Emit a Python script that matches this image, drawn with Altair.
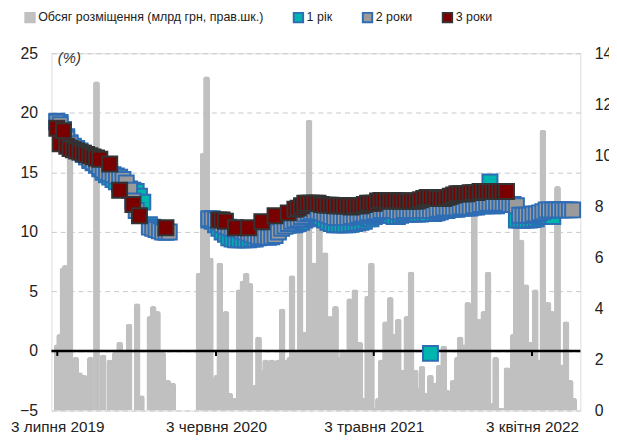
import altair as alt
import pandas as pd

FONT = "Liberation Sans, Arial, sans-serif"

SERIES = ["Обсяг розміщення (млрд грн, прав.шк.)", "1 рік", "2 роки", "3 роки"]
FILLS = ["#c0c0c0", "#00b5ad", "#9b9b9b", "#7a0000"]
STROKES = ["#c0c0c0", "#2e6db4", "#2e6db4", "#333333"]

# placement volumes (bn UAH, right axis)
bar_dates = [
    "2019-07-03", "2019-07-08", "2019-07-15", "2019-07-20", "2019-07-30", "2019-08-11",
    "2019-08-19", "2019-08-28", "2019-09-06", "2019-09-11", "2019-09-24", "2019-10-08",
    "2019-10-22", "2019-11-03", "2019-11-12", "2019-11-20", "2019-12-02", "2019-12-19",
    "2019-12-28", "2020-01-15", "2020-01-22", "2020-01-31", "2020-02-11", "2020-02-22",
    "2020-03-03",
    "2020-04-28", "2020-05-07", "2020-05-14", "2020-05-22", "2020-05-29", "2020-06-05",
    "2020-06-11", "2020-06-19", "2020-06-24", "2020-07-02", "2020-07-11", "2020-07-22",
    "2020-07-30", "2020-08-06", "2020-08-14", "2020-08-23", "2020-09-01", "2020-09-09",
    "2020-09-16", "2020-09-22", "2020-09-29", "2020-10-06", "2020-10-13", "2020-10-21",
    "2020-10-30", "2020-11-06", "2020-11-11", "2020-11-20", "2020-11-28", "2020-12-07",
    "2020-12-17", "2020-12-28", "2021-01-08", "2021-01-20", "2021-01-31", "2021-02-11",
    "2021-02-20", "2021-02-26", "2021-03-05", "2021-03-13", "2021-03-24", "2021-04-03",
    "2021-04-12", "2021-04-20", "2021-04-28", "2021-05-06", "2021-05-13", "2021-05-19",
    "2021-05-28", "2021-06-07", "2021-06-16", "2021-06-24", "2021-07-04", "2021-07-12",
    "2021-07-21", "2021-07-30", "2021-08-06", "2021-08-13", "2021-08-23", "2021-08-31",
    "2021-09-11", "2021-09-19", "2021-09-28", "2021-10-06", "2021-10-18", "2021-10-27",
    "2021-11-02", "2021-11-10", "2021-11-18", "2021-11-25", "2021-12-02", "2021-12-12",
    "2021-12-22", "2021-12-31", "2022-01-10", "2022-01-16", "2022-01-27", "2022-02-09",
    "2022-02-22", "2022-03-01", "2022-03-11", "2022-03-21", "2022-03-31", "2022-04-10",
    "2022-04-19", "2022-04-26", "2022-05-07", "2022-05-15", "2022-05-27", "2022-06-06",
    "2022-06-14", "2022-06-23", "2022-06-30",
]
bar_vals = [
    2.6, 3.0, 5.6, 5.7, 10.2, 2.1,
    1.5, 1.4, 1.3, 2.1, 12.9, 2.2,
    2.0, 2.3, 2.7, 2.3, 3.4, 4.2,
    0.6, 3.7, 4.1, 3.9, 2.3, 1.2,
    1.1,
    5.4, 10.1, 13.1, 6.0, 1.3, 1.4,
    5.8, 0.9, 3.9, 0.7, 0.5, 4.75,
    5.1, 5.4, 5.0, 1.0, 2.9, 1.6,
    2.0, 1.95, 2.0, 1.95, 2.0, 4.0,
    2.0, 2.1, 5.3, 2.3, 7.0, 3.1,
    11.4, 5.8, 7.5, 6.2, 3.7, 4.1,
    2.1, 2.4, 2.3, 4.4, 4.75, 2.7,
    0.5, 4.5, 5.8, 0.1, 0.5, 2.0,
    3.5, 4.45, 3.0, 3.6, 1.6, 3.7,
    5.45, 1.6, 0.9, 1.75, 0.7, 1.4,
    1.1, 1.8, 2.55, 0.8, 1.2, 2.1,
    2.9, 2.6, 4.25, 3.9, 8.0, 3.6,
    3.9, 5.45, 0.3, 2.1, 0.1, 1.7,
    3.0, 7.5, 6.7, 4.95, 2.7, 4.75,
    2.0, 11.0, 4.25, 3.9, 8.8, 1.8,
    3.5, 1.2, 0.5,
]

# weekly auction yields (%), segment 1: from 2019-07-02, segment 2: from 2020-05-19
seg1_start, seg1_weeks = "2019-07-02", 35
seg2_start, seg2_weeks = "2020-05-19", 111

y1_seg1 = [19.3, 19.2, 18.6, 18.0, 17.5, 17.2, 17.0, 16.8, 16.6, 16.3,
           16.0, 15.8, 15.6, 15.3, 15.0, 14.8, 14.6, 14.4, 14.2, 14.0,
           13.8, 13.7, 13.6, 13.5, 13.4, 13.0, 12.5, None, 10.6, 10.4,
           10.3, 10.2, 10.1, 10.0]
y2_seg1 = [19.2, 19.0, 18.4, 17.8, 17.4, 17.1, 16.9, 16.7, 16.5, 16.3,
           16.1, 15.9, 15.7, 15.5, 15.2, 15.0, 14.9, 14.8, 14.7, 14.6,
           14.4, 14.1, 13.5, 12.6, 11.8, None, None, None, 10.4, 10.3,
           10.2, 10.1, 10.0, 10.0, 10.0]
y3_seg1 = [18.7, 17.4, 18.5, 17.2, 17.0, 16.9, 16.8, 16.7, 16.6, 16.5,
           16.4, 16.3, 16.2, 16.1, None, None, 15.7, None, None, 13.5,
           None, None, None, 12.3, None, 11.35, None, None, None, None,
           None, None, None, 10.35]

y1_seg2 = [11.0, 10.9, 10.6, 10.3, 10.0, 9.8, 9.5, 9.4, 9.35, 9.35,
           9.35, 9.35, 9.35, 9.4, 9.4, 9.5, 9.6, 9.7, 9.8, 9.9,
           10.0, 10.2, 10.4, 10.5, 10.55, 10.6, 10.6, 10.7, 10.8, 11.0,
           11.1, 11.2, 11.3, 11.3, 11.2, 11.0, 10.8, 10.7, 10.6, 10.6,
           10.6, 10.6, 10.6, 10.65, 10.7, 10.75, 10.8, 10.9, 11.1, 11.1,
           11.3, 11.4, 11.5, 11.55, 11.55, 11.4, 11.3, 11.3, 11.4, 11.5,
           11.5, 11.5, 11.5, 11.5, 11.5, 11.55, 11.55, -0.2, 11.55, 11.6,
           11.7, 11.8, 11.8, 11.9, 11.9, 11.9, 12.0, 12.0, 12.0, 12.0,
           12.1, 12.1, 12.2, 12.2, 12.2, 14.2, 12.2, 12.2, 12.3, 12.3,
           12.3, 12.3, None, 11.0, 11.0, 11.0, 11.0, 11.0, 11.05, 11.1,
           11.3, 11.3, 11.3, 11.3, 11.3, None, None, None, None, None,
           None]
y2_seg2 = [11.1, 11.1, 11.0, 10.8, 10.6, 10.5, 10.4, 10.3, 10.2, 10.2,
           10.1, 10.0, 9.9, 9.8, 9.7, 9.6, 9.6, 9.6, 9.55, 9.6,
           9.7, 10.0, 10.3, 10.5, 10.7, 10.9, 11.0, 11.1, 11.3, 11.5,
           11.6, 11.7, 11.7, 11.7, 11.6, 11.5, 11.4, 11.3, 11.2, 11.2,
           11.2, 11.2, 11.2, 11.3, 11.3, 11.4, 11.5, 11.5, 11.6, 11.6,
           11.7, 11.7, 11.8, 11.8, 11.8, 11.8, 11.8, 11.7, 11.7, 11.8,
           11.8, 11.8, 11.8, 11.8, 11.8, 11.8, 11.8, 11.8, 11.8, 11.9,
           11.9, 12.0, 12.0, 12.0, 12.0, 12.0, 12.1, 12.1, 12.1, 12.1,
           12.2, 12.2, 12.3, 12.3, 12.4, 12.4, 12.4, 12.4, 12.4, 12.4,
           12.4, 12.3, 12.3, 12.2, 11.4, 11.4, 11.4, 11.4, 11.5, 11.5,
           11.6, 11.7, 11.85, 11.85, 11.85, 11.85, 11.85, 11.85, 11.85, 11.85,
           11.85]
y3_seg2 = [None, None, None, 11.0, 11.0, 10.9, None, None, 10.35, None,
           None, None, 10.35, None, None, None, 10.85, None, None, None,
           11.35, None, None, None, 11.6, None, 11.9, 12.0, 12.2, 12.4,
           12.4, 12.4, 12.4, 12.4, 12.3, 12.25, 12.25, 12.25, 12.2, 12.2,
           12.2, 12.2, 12.2, 12.1, 12.2, 12.2, 12.2, 12.3, 12.4, 12.4,
           12.4, 12.6, 12.65, 12.65, 12.6, 12.6, 12.65, 12.6, 12.6, 12.6,
           12.55, 12.6, 12.6, 12.6, 12.7, 12.8, 12.9, 12.9, 12.9, 12.8,
           12.8, 12.8, 12.9, 13.0, 13.1, 13.2, 13.2, 13.2, 13.2, 13.3,
           13.3, 13.3, 13.4, 13.4, 13.4, 13.4, 13.4, 13.4, 13.4, 13.4,
           13.4]

tick_dates = ["2019-07-03", "2020-06-03", "2021-05-03", "2022-04-03"]
tick_labels = ["3 липня 2019", "3 червня 2020", "3 травня 2021", "3 квітня 2022"]
left_ticks = [-5, 0, 5, 10, 15, 20, 25]
right_ticks = [0, 2, 4, 6, 8, 10, 12, 14]

# ---- build tables ----
bar_df = pd.DataFrame({"date": bar_dates, "vol": bar_vals, "series": SERIES[0]})

d1 = pd.date_range(seg1_start, periods=seg1_weeks, freq="7D").strftime("%Y-%m-%d")
d2 = pd.date_range(seg2_start, periods=seg2_weeks, freq="7D").strftime("%Y-%m-%d")
rows = []
for name, s1, s2 in [(SERIES[1], y1_seg1, y1_seg2), (SERIES[2], y2_seg1, y2_seg2),
                     (SERIES[3], y3_seg1, y3_seg2)]:
    for d, v in zip(d1, s1):
        if v is not None:
            rows.append((d, v, name))
    for d, v in zip(d2, s2):
        if v is not None:
            rows.append((d, v, name))
pts = pd.DataFrame(rows, columns=["date", "rate", "series"])

zero_df = pd.DataFrame({"y": [0]})
tick_df = pd.DataFrame({"date": tick_dates, "y": 0})


def dt(s):
    y, m, d = (int(p) for p in s.split("-"))
    return alt.DateTime(year=y, month=m, date=d, utc=True)


label_expr = ""
for d, lab in zip(tick_dates, tick_labels):
    label_expr += f"utcFormat(datum.value, '%Y-%m-%d') == '{d}' ? '{lab}' : "
label_expr += "''"

x_scale = alt.Scale(type="utc", domain=[dt("2019-07-01"), dt("2022-07-04")])
x_axis = alt.Axis(values=[dt(d) for d in tick_dates], labelExpr=label_expr, title=None,
                  grid=False, domain=False, ticks=False, labelPadding=9,
                  labelFont=FONT, labelFontSize=15.5, labelColor="#222222",
                  labelOverlap=False, labelFlush=False)
x_enc = alt.X("date:T", scale=x_scale, axis=x_axis)

left_scale = alt.Scale(domain=[-5, 25], nice=False, zero=False)
left_axis = alt.Axis(orient="left", values=left_ticks, grid=True, gridDash=[5, 4],
                     gridColor="#c8c8c8", gridWidth=1, domain=False, ticks=False,
                     labelPadding=14, labelFont=FONT, labelFontSize=16, labelColor="#222222",
                     title="(%)", titleAngle=0, titleAlign="left", titleBaseline="middle",
                     titleX=6, titleY=4, titleFont=FONT, titleFontSize=15,
                     titleFontStyle="italic", titleFontWeight="normal", titleColor="#333333")
right_axis = alt.Axis(orient="right", values=right_ticks, grid=False, domain=False, ticks=False,
                      labelPadding=14, labelFont=FONT, labelFontSize=16, labelColor="#222222",
                      title=None)

legend = alt.Legend(title=None, orient="none", legendX=-28, legendY=-43, direction="horizontal",
                    symbolType="square", symbolSize=90, symbolStrokeWidth=2, symbolOpacity=1,
                    labelFont=FONT, labelFontSize=12.6, labelColor="#222222", labelOffset=2,
                    columnPadding=26, labelLimit=0)
color_scale = alt.Scale(domain=SERIES, range=FILLS)
stroke_scale = alt.Scale(domain=SERIES, range=STROKES)

bars = alt.Chart(bar_df).mark_bar(size=7, cornerRadiusTopLeft=3, cornerRadiusTopRight=3).encode(
    x=x_enc,
    y=alt.Y("vol:Q", scale=alt.Scale(domain=[0, 14], nice=False), axis=right_axis),
    color=alt.Color("series:N", scale=color_scale, legend=legend),
)

zero = alt.Chart(zero_df).mark_rule(color="black", strokeWidth=2.5).encode(
    y=alt.Y("y:Q", scale=left_scale, axis=None),
)

ticks = alt.Chart(tick_df).mark_rule(color="black", strokeWidth=2, y2Offset=5).encode(
    x=x_enc,
    y=alt.Y("y:Q", scale=left_scale, axis=None),
    y2="y:Q",
)

squares = alt.Chart(pts).mark_square(size=230, strokeWidth=2, opacity=1, filled=True).encode(
    x=x_enc,
    y=alt.Y("rate:Q", scale=left_scale, axis=left_axis),
    color=alt.Color("series:N", scale=color_scale, legend=legend),
    stroke=alt.Stroke("series:N", scale=stroke_scale, legend=legend),
)

chart = alt.layer(bars, zero, ticks, squares).resolve_scale(y="independent").properties(
    width=536, height=362,
    padding={"left": 44, "top": 43, "right": 29, "bottom": 30},
    autosize=alt.AutoSizeParams(type="none"),
).configure_view(stroke=None).configure(font=FONT)

chart.save("out.html", embed_options={"renderer": "svg", "actions": False})
